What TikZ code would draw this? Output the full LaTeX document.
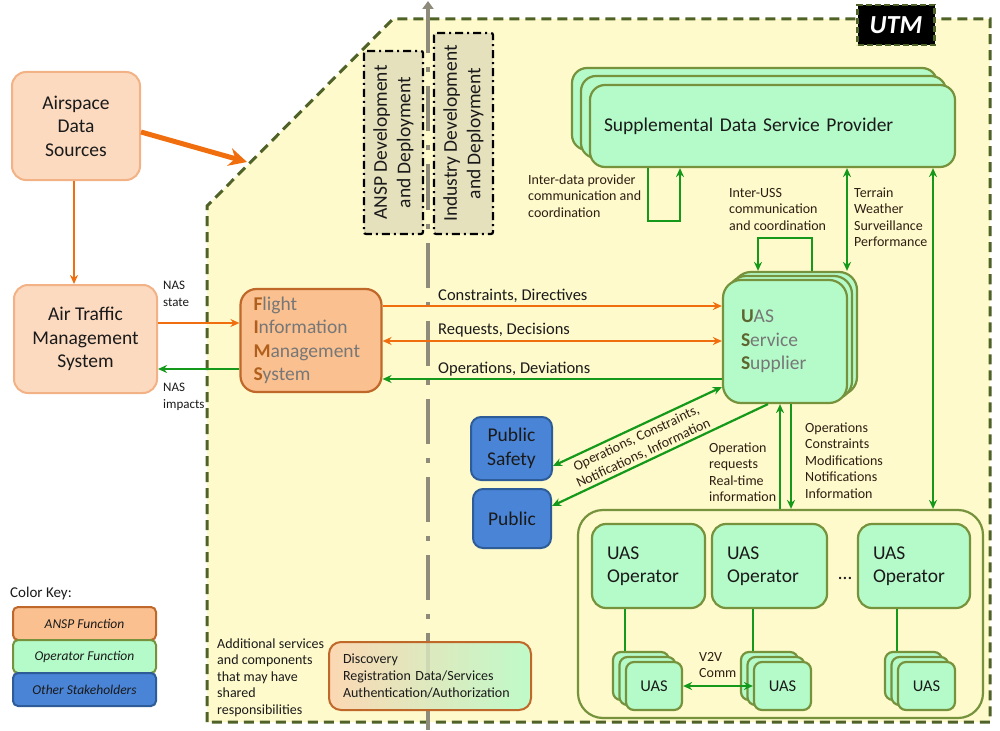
\documentclass[tikz,border=0pt]{standalone}
\usepackage{fontspec}
\setmainfont{Carlito}
\usetikzlibrary{arrows.meta,calc}
\definecolor{utmfill}{HTML}{FEFACB}
\definecolor{utmline}{HTML}{4F6228}
\definecolor{mint}{HTML}{B5FBC9}
\definecolor{olivel}{HTML}{76923C}
\definecolor{ggreen}{HTML}{15991A}
\definecolor{orng}{HTML}{F06E0E}
\definecolor{fimsfill}{HTML}{FAC08F}
\definecolor{fimsline}{HTML}{C0682A}
\definecolor{peach}{HTML}{FCDAC0}
\definecolor{peachline}{HTML}{F3B186}
\definecolor{blu}{HTML}{4A84D6}
\definecolor{bluline}{HTML}{2E5C98}
\definecolor{khaki}{HTML}{E6E1BD}
\definecolor{graya}{HTML}{8E8B7A}
\definecolor{lblc}{HTML}{2E1E12}
\definecolor{txtgray}{HTML}{777777}
\definecolor{fimsB}{HTML}{B0601C}
\definecolor{ussB}{HTML}{5E6630}
\definecolor{ink}{HTML}{1A1A1A}
\newcommand{\fbig}{\fontsize{19.5}{23.5}\selectfont}
\newcommand{\fsml}{\fontsize{14}{16.6}\selectfont}
\newcommand{\flab}{\fontsize{16.5}{20}\selectfont}
\begin{document}
\begin{tikzpicture}[x=1pt,y=-1pt,
  >={Stealth[length=9pt,width=8pt]},
  garr/.style={draw=ggreen,line width=2.2pt},
  oarr/.style={draw=orng,line width=2.2pt},
  lab/.style={font=\fsml,text=lblc,align=left,inner sep=0pt,anchor=base west},
  greenbox/.style={draw=olivel,fill=mint,line width=2.2pt,inner sep=0pt},
  peachbox/.style={draw=peachline,fill=peach,line width=2pt,rounded corners=14pt,align=center,font=\fbig,text=ink,inner sep=0pt},
  bluebox/.style={draw=bluline,fill=blu,line width=2pt,rounded corners=10pt,align=center,font=\fbig,text=ink,inner sep=0pt},
  ddbox/.style={draw=black,fill=khaki,line width=2.2pt,dash pattern=on 8pt off 4pt on 2pt off 4pt,rounded corners=2pt,align=center,font=\fbig,text=ink,inner sep=0pt},
  opbox/.style={greenbox,rounded corners=14pt,minimum height=84pt,align=left,font=\fbig,text=ink},
  uasbox/.style={greenbox,rounded corners=8pt},
  keybox/.style={minimum width=143pt,minimum height=33pt,line width=2pt,rounded corners=5pt,inner sep=0pt,text=ink,font=\fontsize{13.5}{16}\selectfont\itshape}
]
\useasboundingbox (0,0) rectangle (1000,730);

% UTM region
\draw[fill=utmfill,draw=utmline,line width=3pt,dash pattern=on 10pt off 6pt]
  (207,722) -- (207,206) -- (393,19) -- (990,19) -- (990,722) -- cycle;
\node[fill=black,draw=utmline,line width=2.5pt,dash pattern=on 6pt off 3pt,minimum width=77pt,minimum height=40pt,text=white,font=\fontsize{26}{30}\selectfont\bfseries\itshape] (utm) at (896,25) {UTM};

% gray divider
\coordinate (gtop) at (428,1);
\coordinate (gbot) at (428,730);
\draw[graya,line width=4.5pt,dash pattern=on 45pt off 14pt on 5pt off 14pt,{Triangle[length=8pt,width=11pt]}-] (gtop) -- (gbot);

% development boxes
\node[ddbox,rotate=90,minimum width=183pt,minimum height=59pt] (ansp) at (393.5,142.5) {ANSP Development\\and Deployment};
\node[ddbox,rotate=90,minimum width=201pt,minimum height=59pt] (indu) at (463.5,133.5) {Industry Development\\and Deployment};

% left boxes
\node[peachbox,minimum width=128pt,minimum height=108pt] (air) at (76,126) {Airspace\\Data\\Sources};
\node[peachbox,minimum width=143pt,minimum height=108pt] (atm) at (85.5,339) {Air Traffic\\Management\\System};
\node[draw=fimsline,fill=fimsfill,line width=2.2pt,rounded corners=16pt,inner sep=0pt,minimum width=141pt,minimum height=103pt,text width=115pt,align=left,font=\fbig,text=txtgray] (fims) at (311,340.5)
 {{\color{fimsB}\bfseries F}light\\{\color{fimsB}\bfseries I}nformation\\{\color{fimsB}\bfseries M}anagement\\{\color{fimsB}\bfseries S}ystem};

% SDSP stack
\draw[greenbox,rounded corners=15pt] (572,68) rectangle (937,150);
\draw[greenbox,rounded corners=15pt] (581,76) rectangle (946,158);
\node[greenbox,rounded corners=15pt,minimum width=365pt,minimum height=82pt,text width=337pt,align=left,font=\fbig,text=ink] (sdsp) at (772.5,126) {Supplemental Data Service Provider};

% USS stack
\draw[greenbox,rounded corners=18pt] (733,272) rectangle (857,395);
\draw[greenbox,rounded corners=18pt] (728,276) rectangle (852,399);
\node[greenbox,rounded corners=18pt,minimum width=124pt,minimum height=123pt,text width=88pt,align=left,font=\fbig,text=txtgray] (uss) at (785,341.5)
 {{\color{ussB}\bfseries U}AS\\{\color{ussB}\bfseries S}ervice\\{\color{ussB}\bfseries S}upplier};

% stakeholders
\node[bluebox,minimum width=81pt,minimum height=63pt] (ps) at (511.5,448.5) {Public\\Safety};
\node[bluebox,minimum width=78pt,minimum height=59pt] (pub) at (512,518.5) {Public};

% operators container
\node[draw=olivel,fill=utmfill,line width=2.2pt,rounded corners=25pt,minimum width=405pt,minimum height=208pt] (ops) at (780.5,614) {};
\node[opbox,minimum width=113pt,text width=83pt] (op1) at (648.5,566) {UAS\\Operator};
\node[opbox,minimum width=115pt,text width=85pt] (op2) at (769.5,566) {UAS\\Operator};
\node[opbox,minimum width=112pt,text width=82pt] (op3) at (914,566) {UAS\\Operator};
\node[font=\fbig,text=ink,inner sep=0pt] (dots) at (845,578) {…};

% UAS stacks
\draw[uasbox] (613,652) rectangle (669,700);
\draw[uasbox] (619.5,657) rectangle (675.5,705);
\node[uasbox,minimum width=56pt,minimum height=48pt,font=\fontsize{16.5}{20}\selectfont,text=ink] (u1) at (654,686) {UAS};
\draw[uasbox] (741,652) rectangle (798,700);
\draw[uasbox] (747.5,657) rectangle (804.5,705);
\node[uasbox,minimum width=57pt,minimum height=48pt,font=\fontsize{16.5}{20}\selectfont,text=ink] (u2) at (782.5,686) {UAS};
\draw[uasbox] (885,652) rectangle (942,700);
\draw[uasbox] (891.5,657) rectangle (948.5,705);
\node[uasbox,minimum width=57pt,minimum height=48pt,font=\fontsize{16.5}{20}\selectfont,text=ink] (u3) at (926.5,686) {UAS};

% discovery box
\node[draw=fimsline,line width=2pt,rounded corners=12pt,left color=fimsfill!70!white,right color=mint,fill opacity=0.85,text opacity=1,minimum width=202pt,minimum height=68pt,text width=174pt,align=left,font=\fsml,text=ink,inner sep=0pt] (disc) at (430,676) {Discovery\\Registration Data/Services\\Authentication/Authorization};

% key
\node[lab,font=\fontsize{15}{18}\selectfont,text=ink] (ckey) at (10,597) {Color Key:};
\node[keybox,fill=fimsfill,draw=fimsline] (k1) at (84.5,623.5) {ANSP Function};
\node[keybox,fill=mint,draw=olivel] (k2) at (84.5,656.5) {Operator Function};
\node[keybox,fill=blu,draw=bluline] (k3) at (84.5,689.5) {Other Stakeholders};

% ---- connectors ----
\draw[orng,line width=5pt,-{Stealth[length=18pt,width=18pt]}] ([yshift=-6pt]air.east) -- (247,162);
\coordinate (x74) at (74,0);
\draw[oarr,->] (air.south -| x74) -- (atm.north -| x74);

\coordinate (ns) at ([yshift=16pt]atm.east);
\draw[oarr,->] (ns) -- (ns -| fims.west);
\coordinate (ni) at ([yshift=-30pt]atm.east);
\draw[garr,->] (ni -| fims.west) -- (ni);

\coordinate (c1) at ([yshift=34.5pt]fims.east);
\draw[oarr,->] (c1) -- (c1 -| uss.west);
\coordinate (c2) at ([yshift=-0.5pt]fims.east);
\draw[oarr,<->] (c2) -- (c2 -| uss.west);
\coordinate (c3) at ([yshift=-38.5pt]fims.east);
\draw[garr,->] (c3 -| uss.west) -- (c3);

\coordinate (xa) at (648,0);
\coordinate (xb) at (680,0);
\coordinate (yl) at (0,221);
\draw[garr,->] (sdsp.south -| xa) -- (xa |- yl) -- (xb |- yl) -- (sdsp.south -| xb);

\coordinate (usstop) at ([yshift=8pt]uss.north);
\coordinate (xc) at (812,0);
\coordinate (xd) at (758,0);
\coordinate (yu) at (0,238);
\draw[garr,->] (usstop -| xc) -- (xc |- yu) -- (xd |- yu) -- (usstop -| xd);

\coordinate (xe) at (847,0);
\draw[garr,<->] (sdsp.south -| xe) -- (usstop -| xe);
\coordinate (xf) at (933,0);
\draw[garr,<->] (sdsp.south -| xf) -- (ops.north -| xf);

\coordinate (xg) at (780,0);
\coordinate (xh) at (791,0);
\draw[garr,->] (ops.north -| xg) -- (uss.south -| xg);
\draw[garr,->] (uss.south -| xh) -- (ops.north -| xh);

\coordinate (pse) at ([yshift=-17.5pt]ps.east);
\coordinate (ussa) at ([yshift=-45.5pt]uss.west);
\draw[garr,<->] (pse) -- (ussa);
\coordinate (ussb) at ([xshift=-17pt]uss.south);
\coordinate (pue) at ([yshift=12.5pt]pub.east);
\draw[garr,->] (ussb) -- (pue);

\coordinate (u1t) at ([yshift=10pt]u1.north);
\coordinate (u2t) at ([yshift=10pt]u2.north);
\coordinate (u3t) at ([yshift=10pt]u3.north);
\draw[garr] (op1.south -| u1.west) -- (u1t -| u1.west);
\draw[garr] (op2.south -| u2.west) -- (u2t -| u2.west);
\draw[garr] (op3.south -| u3.west) -- (u3t -| u3.west);
\draw[garr,<->] (u1.east) -- (u1.east -| u2.west);

% ---- labels (anchor = baseline of last line) ----
\node[lab,font=\flab,text=ink] (l1) at (438,300) {Constraints, Directives};
\node[lab,font=\flab,text=ink] (l2) at (438,334) {Requests, Decisions};
\node[lab,font=\flab,text=ink] (l3) at (438,373) {Operations, Deviations};
\node[lab,font=\fontsize{13}{17}\selectfont,text=ink] (nas1) at (163,306) {NAS\\state};
\node[lab,font=\fontsize{13}{17}\selectfont,text=ink] (nas2) at (163,408) {NAS\\impacts};
\node[lab] (tidp) at (528,217.2) {Inter-data provider\\communication and\\coordination};
\node[lab] (tuss) at (729,230.2) {Inter-USS\\communication\\and coordination};
\node[lab] (tter) at (854,246.8) {Terrain\\Weather\\Surveillance\\Performance};
\node[lab] (topr) at (709,501.8) {Operation\\requests\\Real-time\\information};
\node[lab] (tops) at (805,498.4) {Operations\\Constraints\\Modifications\\Notifications\\Information};
\node[lab] (tv2v) at (699,677.6) {V2V\\Comm};
\node[lab,text=ink] (tadd) at (217,714.4) {Additional services\\and components\\that may have\\shared\\responsibilities};
\node[font=\fsml,text=lblc,align=center,rotate=25,inner sep=0pt] (lrot) at (640,446) {Operations, Constraints,\\Notifications, Information};
\end{tikzpicture}
\end{document}
